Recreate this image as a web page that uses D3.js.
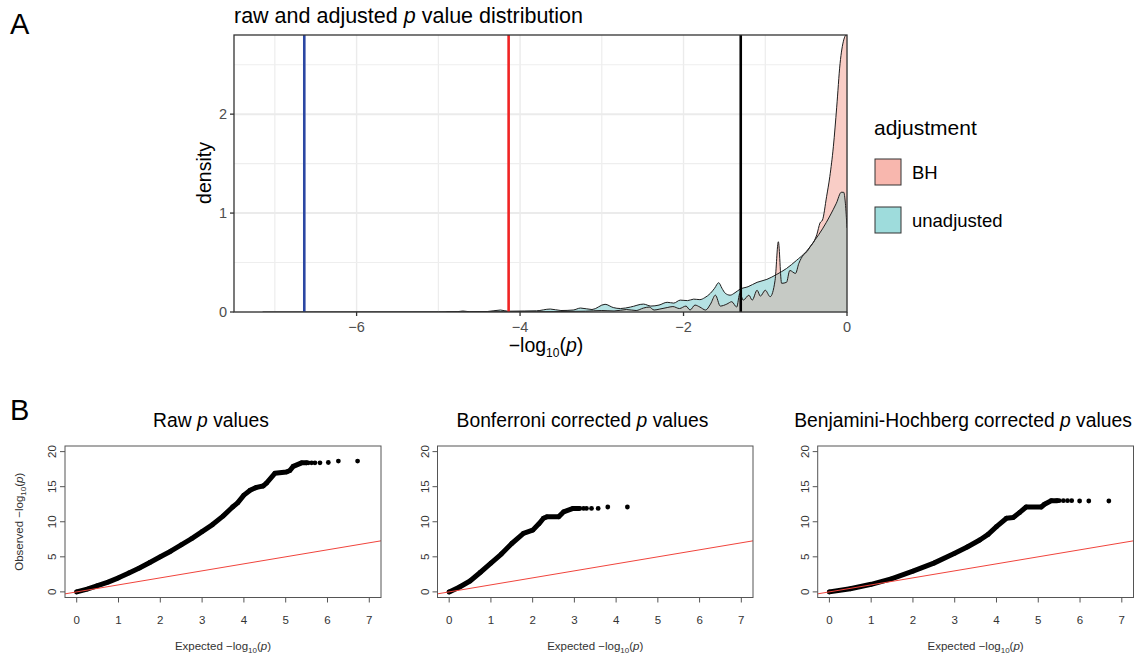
<!DOCTYPE html>
<html>
<head>
<meta charset="utf-8">
<script src="https://cdn.jsdelivr.net/npm/d3@7"></script>
<style>
body { margin: 0; background: #fff; }
svg { display: block; font-family: "Liberation Sans", Arial, sans-serif; }
</style>
</head>
<body>
<script>
// ---- panel A data: density of -log10(p) ----
var bhDensity = [
  [-4.9,0],[-4.5,0.002],[-4.2,0.003],[-3.8,0.003],[-3.5,0.005],[-3.2,0.008],[-3.0,0.015],
  [-2.85,0.01],[-2.7,0.025],[-2.58,0.015],[-2.49,0.04],[-2.42,0.05],[-2.36,0.02],[-2.29,0.03],
  [-2.2,0.045],[-2.13,0.055],[-2.05,0.035],[-1.97,0.06],[-1.92,0.02],[-1.86,0.07],[-1.8,0.05],
  [-1.73,0.02],[-1.67,0.08],[-1.61,0.17],[-1.55,0.06],[-1.47,0.08],[-1.41,0.104],[-1.35,0.05],
  [-1.31,0.19],[-1.27,0.12],[-1.2,0.17],[-1.16,0.12],[-1.1,0.22],[-1.06,0.16],[-1.0,0.22],
  [-0.94,0.155],[-0.88,0.32],[-0.84,0.71],[-0.8,0.29],[-0.74,0.3],[-0.7,0.42],[-0.63,0.39],
  [-0.59,0.49],[-0.53,0.58],[-0.49,0.61],[-0.45,0.66],[-0.4,0.72],[-0.37,0.78],[-0.33,0.9],
  [-0.3,0.93],[-0.25,1.165],[-0.21,1.37],[-0.167,1.67],[-0.126,2.07],[-0.085,2.51],
  [-0.04,2.75],[-0.01,2.8],[0,2.8]
];
var unadjDensity = [
  [-7.15,0],[-5.0,0.002],[-4.76,0.004],[-4.7,0.01],[-4.62,0.003],[-4.4,0.005],[-4.24,0.02],
  [-4.15,0.008],[-3.95,0.01],[-3.8,0.012],[-3.63,0.03],[-3.5,0.015],[-3.35,0.02],[-3.26,0.04],
  [-3.12,0.025],[-2.96,0.078],[-2.86,0.045],[-2.77,0.035],[-2.65,0.05],[-2.49,0.08],[-2.4,0.06],
  [-2.3,0.07],[-2.2,0.098],[-2.12,0.09],[-2.04,0.12],[-1.95,0.115],[-1.876,0.13],[-1.8,0.125],
  [-1.74,0.145],[-1.67,0.19],[-1.62,0.24],[-1.57,0.296],[-1.53,0.24],[-1.49,0.19],[-1.43,0.17],
  [-1.37,0.195],[-1.31,0.23],[-1.21,0.256],[-1.1,0.3],[-0.98,0.33],[-0.86,0.38],[-0.74,0.44],
  [-0.62,0.52],[-0.5,0.61],[-0.39,0.73],[-0.3,0.84],[-0.21,0.97],[-0.13,1.1],[-0.07,1.21],
  [-0.04,1.21],[-0.02,1.1],[0,0.85]
];
var thresholds = [-6.64, -4.14, -1.30];
var thresholdColors = ["#2b47a3", "#f02424", "#000000"];
var legendLabels = ["BH", "unadjusted"];
var xTicksA = [-6, -4, -2, 0];
var xMinorA = [-7, -5, -3, -1];
var yTicksA = [0, 1, 2];
var yMinorA = [0.5, 1.5, 2.5];

// ---- panel B data: QQ points (expected, observed) ----
var rawDense = [[0,0],[0.25,0.4],[0.5,0.9],[0.75,1.4],[1,2.0],[1.25,2.7],[1.5,3.4],[1.75,4.2],[2,5.0],
  [2.25,5.8],[2.5,6.7],[2.75,7.6],[3,8.6],[3.25,9.6],[3.5,10.8],[3.73,12.1],[3.85,12.7],[4.0,13.8],
  [4.15,14.5],[4.3,14.9],[4.46,15.1],[4.54,15.5],[4.74,16.9],[5.02,17.1],[5.1,17.3],[5.18,17.9],
  [5.38,18.4],[5.5,18.4]];
var rawSparse = [[5.54,18.4],[5.62,18.4],[5.7,18.4],[5.82,18.4],[6.02,18.45],[6.26,18.65],[6.72,18.65]];
var bonfDense = [[0,0],[0.25,0.7],[0.5,1.55],[0.75,2.8],[1,4.1],[1.25,5.4],[1.5,6.9],[1.78,8.35],
  [2.0,8.8],[2.15,9.7],[2.26,10.5],[2.34,10.7],[2.62,10.7],[2.74,11.4],[2.97,11.9],[3.1,11.9]];
var bonfSparse = [[3.13,11.9],[3.22,11.9],[3.29,11.9],[3.41,11.9],[3.57,11.9],[3.8,12.1],[4.27,12.1]];
var bhDense = [[0,0],[0.5,0.45],[1,1.08],[1.5,1.9],[2,2.96],[2.5,4.1],[3,5.5],[3.3,6.4],[3.6,7.4],
  [3.8,8.2],[4.0,9.3],[4.24,10.5],[4.4,10.6],[4.55,11.3],[4.71,12.1],[5.07,12.1],[5.15,12.5],
  [5.31,13.0],[5.45,13.0]];
var bhSparse = [[5.5,13.0],[5.6,13.0],[5.7,13.0],[5.8,13.0],[5.99,12.96],[6.21,12.96],[6.69,12.96]];
var qqTitles = ["Raw", "Bonferroni corrected", "Benjamini-Hochberg corrected"];
var qqTicksX = [0, 1, 2, 3, 4, 5, 6, 7];
var qqTicksY = [0, 5, 10, 15, 20];

var svg = d3.select("body").append("svg")
  .attr("width", 1134).attr("height", 655);
svg.append("rect").attr("width", 1134).attr("height", 655).attr("fill", "#fff");

// panel letters
svg.append("text").attr("x", 10).attr("y", 34).attr("font-size", 29).text("A");
svg.append("text").attr("x", 10).attr("y", 420).attr("font-size", 29).text("B");

// ================= panel A =================
var x = d3.scaleLinear().domain([-7.5, 0]).range([234, 847]);
var y = d3.scaleLinear().domain([0, 2.8]).range([312, 35]);

var defs = svg.append("defs");
defs.append("clipPath").attr("id", "panelClip")
  .append("rect").attr("x", 234).attr("y", 35).attr("width", 613).attr("height", 277);

var area = d3.area().x(function(d){ return x(d[0]); }).y0(y(0))
  .y1(function(d){ return y(d[1]); }).curve(d3.curveMonotoneX);
var line = d3.line().x(function(d){ return x(d[0]); })
  .y(function(d){ return y(d[1]); }).curve(d3.curveMonotoneX);

defs.append("clipPath").attr("id", "unadjClip")
  .append("path").attr("d", area(unadjDensity));

var gA = svg.append("g");
gA.selectAll(".xminor").data(xMinorA).enter().append("line")
  .attr("x1", x).attr("x2", x).attr("y1", 35).attr("y2", 312)
  .attr("stroke", "#ebebeb").attr("stroke-width", 1.1);
gA.selectAll(".xmajor").data(xTicksA).enter().append("line")
  .attr("x1", x).attr("x2", x).attr("y1", 35).attr("y2", 312)
  .attr("stroke", "#ebebeb").attr("stroke-width", 1.4);
gA.selectAll(".yminor").data(yMinorA).enter().append("line")
  .attr("x1", 234).attr("x2", 847).attr("y1", y).attr("y2", y)
  .attr("stroke", "#eeeeee").attr("stroke-width", 1.1);
gA.selectAll(".ymajor").data(yTicksA).enter().append("line")
  .attr("x1", 234).attr("x2", 847).attr("y1", y).attr("y2", y)
  .attr("stroke", "#ebebeb").attr("stroke-width", 2);

var plotA = gA.append("g").attr("clip-path", "url(#panelClip)");
plotA.append("path").attr("d", area(unadjDensity)).attr("fill", "#b5e2e3");
plotA.append("path").attr("d", area(bhDensity)).attr("fill", "#f9cdc6");
plotA.append("path").attr("d", area(bhDensity)).attr("fill", "#c6cac5")
  .attr("clip-path", "url(#unadjClip)");
plotA.append("path").attr("d", line(unadjDensity)).attr("fill", "none")
  .attr("stroke", "#1e1e1e").attr("stroke-width", 1);
plotA.append("path").attr("d", line(bhDensity)).attr("fill", "none")
  .attr("stroke", "#1e1e1e").attr("stroke-width", 1);

plotA.selectAll(".thr").data(thresholds).enter().append("line")
  .attr("x1", x).attr("x2", x).attr("y1", 35).attr("y2", 312)
  .attr("stroke", function(d, i){ return thresholdColors[i]; })
  .attr("stroke-width", 2.6);

gA.append("rect").attr("x", 234).attr("y", 35).attr("width", 613).attr("height", 277)
  .attr("fill", "none").attr("stroke", "#333").attr("stroke-width", 1.3);

// ticks
gA.selectAll(".xt").data(xTicksA).enter().append("line")
  .attr("x1", x).attr("x2", x).attr("y1", 312).attr("y2", 316)
  .attr("stroke", "#333").attr("stroke-width", 1.3);
gA.selectAll(".xtl").data(xTicksA).enter().append("text")
  .attr("x", x).attr("y", 332).attr("text-anchor", "middle")
  .attr("font-size", 14.5).attr("fill", "#4d4d4d")
  .text(function(d){ return d === 0 ? "0" : "\u2212" + Math.abs(d); });
gA.selectAll(".yt").data(yTicksA).enter().append("line")
  .attr("x1", 230).attr("x2", 234).attr("y1", y).attr("y2", y)
  .attr("stroke", "#333").attr("stroke-width", 1.3);
gA.selectAll(".ytl").data(yTicksA).enter().append("text")
  .attr("x", 227).attr("y", function(d){ return y(d) + 5; }).attr("text-anchor", "end")
  .attr("font-size", 14.5).attr("fill", "#4d4d4d").text(function(d){ return d; });

// axis titles
var xtA = gA.append("text").attr("x", 546).attr("y", 352).attr("text-anchor", "middle")
  .attr("font-size", 19.5);
xtA.append("tspan").text("\u2212log");
xtA.append("tspan").attr("font-size", 12).attr("dy", 5).text("10");
xtA.append("tspan").attr("dy", -5).text("(");
xtA.append("tspan").attr("font-style", "italic").text("p");
xtA.append("tspan").text(")");
gA.append("text").attr("transform", "translate(211,173) rotate(-90)")
  .attr("text-anchor", "middle").attr("font-size", 19.5).text("density");

var ttA = gA.append("text").attr("x", 234).attr("y", 23).attr("font-size", 21.5);
ttA.append("tspan").text("raw and adjusted ");
ttA.append("tspan").attr("font-style", "italic").text("p");
ttA.append("tspan").text(" value distribution");

// legend
var legend = svg.append("g");
legend.append("text").attr("x", 874).attr("y", 135).attr("font-size", 21).text("adjustment");
var legendFill = ["#f8b7ae", "#9edcdc"];
legend.selectAll(".key").data(legendLabels).enter().append("rect")
  .attr("x", 875).attr("y", function(d, i){ return 159 + i * 48; })
  .attr("width", 26).attr("height", 26)
  .attr("fill", function(d, i){ return legendFill[i]; })
  .attr("stroke", "#333").attr("stroke-width", 1);
legend.selectAll(".lab").data(legendLabels).enter().append("text")
  .attr("x", 912).attr("y", function(d, i){ return 179 + i * 48; })
  .attr("font-size", 18.5).text(function(d){ return d; });

// ================= panel B =================
var qqPanels = [
  { dense: rawDense, sparse: rawSparse, left: 65, right: 381, titleX: 211, ylab: true },
  { dense: bonfDense, sparse: bonfSparse, left: 437.5, right: 753, titleX: 582.5, ylab: false },
  { dense: bhDense, sparse: bhSparse, left: 817.7, right: 1133.5, titleX: 963, ylab: false }
];
var boxTop = 446, boxBottom = 597.5;

qqPanels.forEach(function(p, k) {
  var g = svg.append("g");
  var qx = d3.scaleLinear().domain([-0.28, 7.28]).range([p.left, p.right]);
  var qy = d3.scaleLinear().domain([-0.8, 20.8]).range([boxBottom, boxTop]);
  var cid = "qqclip" + k;
  defs.append("clipPath").attr("id", cid).append("rect")
    .attr("x", p.left).attr("y", boxTop).attr("width", p.right - p.left).attr("height", boxBottom - boxTop);

  var inner = g.append("g").attr("clip-path", "url(#" + cid + ")");
  var qline = d3.line().x(function(d){ return qx(d[0]); }).y(function(d){ return qy(d[1]); });
  inner.append("path").attr("d", qline(p.dense)).attr("fill", "none")
    .attr("stroke", "#000").attr("stroke-width", 5)
    .attr("stroke-linejoin", "round").attr("stroke-linecap", "round");
  inner.selectAll("circle").data(p.dense.concat(p.sparse)).enter().append("circle")
    .attr("cx", function(d){ return qx(d[0]); }).attr("cy", function(d){ return qy(d[1]); })
    .attr("r", 2.4).attr("fill", "#000");
  inner.append("line")
    .attr("x1", qx(-1)).attr("y1", qy(-1)).attr("x2", qx(8)).attr("y2", qy(8))
    .attr("stroke", "#f0443c").attr("stroke-width", 1);

  g.append("rect").attr("x", p.left).attr("y", boxTop)
    .attr("width", p.right - p.left).attr("height", boxBottom - boxTop)
    .attr("fill", "none").attr("stroke", "#555").attr("stroke-width", 1);

  // x axis
  g.selectAll(".qxt").data(qqTicksX).enter().append("line")
    .attr("x1", qx).attr("x2", qx).attr("y1", boxBottom).attr("y2", boxBottom + 5)
    .attr("stroke", "#555");
  g.selectAll(".qxl").data(qqTicksX).enter().append("text")
    .attr("x", qx).attr("y", 624).attr("text-anchor", "middle")
    .attr("font-size", 11.5).attr("fill", "#333").text(function(d){ return d; });
  // y axis
  g.selectAll(".qyt").data(qqTicksY).enter().append("line")
    .attr("x1", p.left - 5).attr("x2", p.left).attr("y1", qy).attr("y2", qy)
    .attr("stroke", "#555");
  g.selectAll(".qyl").data(qqTicksY).enter().append("text")
    .attr("transform", function(d){ return "translate(" + (p.left - 9) + "," + qy(d) + ") rotate(-90)"; })
    .attr("text-anchor", "middle").attr("font-size", 11.5).attr("fill", "#333")
    .text(function(d){ return d; });

  // x label
  var xl = g.append("text").attr("x", (p.left + p.right) / 2).attr("y", 650)
    .attr("text-anchor", "middle").attr("font-size", 11.5).attr("fill", "#333");
  xl.append("tspan").text("Expected  \u2212log");
  xl.append("tspan").attr("font-size", 8).attr("dy", 3).text("10");
  xl.append("tspan").attr("dy", -3).text("(");
  xl.append("tspan").attr("font-style", "italic").text("p");
  xl.append("tspan").text(")");

  if (p.ylab) {
    var yl = g.append("text")
      .attr("transform", "translate(23," + (boxTop + boxBottom) / 2 + ") rotate(-90)")
      .attr("text-anchor", "middle").attr("font-size", 11.5).attr("fill", "#333");
    yl.append("tspan").text("Observed  \u2212log");
    yl.append("tspan").attr("font-size", 8).attr("dy", 3).text("10");
    yl.append("tspan").attr("dy", -3).text("(");
    yl.append("tspan").attr("font-style", "italic").text("p");
    yl.append("tspan").text(")");
  }

  var tt = g.append("text").attr("x", p.titleX).attr("y", 427)
    .attr("text-anchor", "middle").attr("font-size", 19.3);
  tt.append("tspan").text(qqTitles[k] + " ");
  tt.append("tspan").attr("font-style", "italic").text("p");
  tt.append("tspan").text(" values");
});
</script>
</body>
</html>
